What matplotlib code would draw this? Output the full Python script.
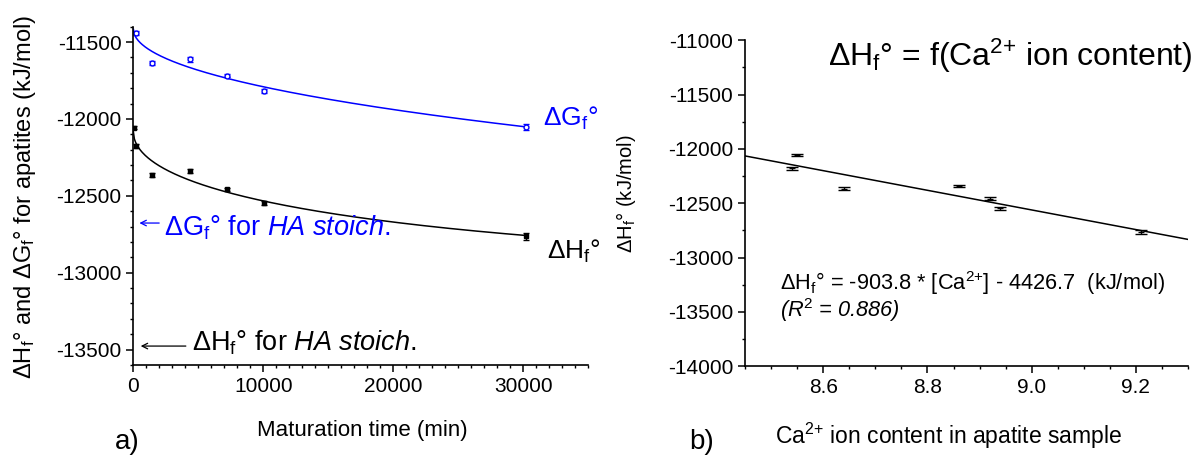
import numpy as np
import matplotlib.pyplot as plt
from matplotlib.ticker import MultipleLocator

plt.rcParams['font.family'] = ['Liberation Sans', 'DejaVu Sans']
plt.rcParams['mathtext.fontset'] = 'custom'
plt.rcParams['mathtext.rm'] = 'Liberation Sans'
plt.rcParams['mathtext.it'] = 'Liberation Sans:italic'
plt.rcParams['mathtext.bf'] = 'Liberation Sans:bold'
plt.rcParams['axes.unicode_minus'] = False

# maturation time (min) vs enthalpy / free energy of formation (kJ/mol)
time_h = [20, 180, 1440, 4320, 7200, 10080, 30240]
dH = [-12056, -12176, -12364, -12340, -12458, -12545, -12763]
dH_err = [12, 14, 12, 12, 12, 12, 22]

time_g = [180, 1440, 4320, 7200, 10080, 30240]
dG = [-11439, -11635, -11613, -11718, -11818, -12052]
dG_err = [14, 14, 14, 12, 14, 18]

# Ca2+ content of the same samples
ca_content = [8.55, 8.54, 8.64, 8.86, 8.92, 8.94, 9.21]
fit_slope, fit_icpt = -903.8, -4426.7
r2 = 0.886

# reference values for stoichiometric hydroxyapatite
dH_HA = -13477
dG_HA = -12677

BLUE = '#0000ff'
CA = r'Ca$^{2{+}}$'


def trend(t, y, tt):
    # least squares on 1, sqrt(t), t
    t = np.asarray(t, float)
    A = np.column_stack([np.ones(len(t)), np.sqrt(t), t])
    c = np.linalg.lstsq(A, np.asarray(y, float), rcond=None)[0]
    return c[0] + c[1] * np.sqrt(tt) + c[2] * tt


def style_axes(ax):
    for s in ('top', 'right'):
        ax.spines[s].set_visible(False)
    for s in ('left', 'bottom'):
        ax.spines[s].set_linewidth(1.2)
    ax.tick_params(which='major', direction='out', length=5, width=1.1, labelsize=15)
    ax.tick_params(which='minor', direction='out', length=2.5, width=1.0)


fig = plt.figure(figsize=(11.94, 4.62), dpi=100)

# a) time dependence
ax1 = fig.add_axes([0.1117, 0.2100, 0.381, 0.7323])
tt = np.linspace(0, 30240, 400)
ax1.plot(tt, trend(time_g, dG, tt), color=BLUE, lw=1.1)
ax1.plot(tt, trend(time_h, dH, tt), color='black', lw=1.1)
ax1.errorbar(time_g, dG, yerr=dG_err, fmt='o', ms=3.5, mfc='white', mec=BLUE,
             mew=1, ecolor=BLUE, elinewidth=1, capsize=2.5, color=BLUE)
ax1.errorbar(time_h, dH, yerr=dH_err, fmt='s', ms=3, color='black',
             elinewidth=1, capsize=2.5)
ax1.set_xlim(0, 35000)
ax1.set_ylim(-13600, -11400)
ax1.xaxis.set_major_locator(MultipleLocator(10000))
ax1.xaxis.set_minor_locator(MultipleLocator(1000))
ax1.yaxis.set_major_locator(MultipleLocator(500))
ax1.yaxis.set_minor_locator(MultipleLocator(100))
style_axes(ax1)

ax1.text(31500, -12044, r'ΔG$_\mathrm{f}$°', color=BLUE, fontsize=19, va='baseline')
ax1.text(31800, -12909, r'ΔH$_\mathrm{f}$°', color='black', fontsize=19, va='baseline')

ax1.annotate('', xy=(250, dG_HA), xytext=(2200, dG_HA),
             arrowprops=dict(arrowstyle='->', color=BLUE, lw=0.9))
ax1.text(2320, -12760, r'ΔG$_\mathrm{f}$° for $\mathit{HA\ stoich.}$', color=BLUE,
         fontsize=19.5, va='baseline')
ax1.annotate('', xy=(350, dH_HA), xytext=(4250, dH_HA),
             arrowprops=dict(arrowstyle='->', color='black', lw=0.9))
ax1.text(4490, -13505, r'ΔH$_\mathrm{f}$° for $\mathit{HA\ stoich.}$', color='black',
         fontsize=19.5, va='baseline')

ax1.set_xlabel('Maturation time (min)', fontsize=16)
ax1.xaxis.set_label_coords(0.503, -0.163)
ax1.set_ylabel(r'ΔH$_\mathrm{f}$° and ΔG$_\mathrm{f}$° for apatites (kJ/mol)', fontsize=17)
ax1.yaxis.set_label_coords(-0.209, 0.498)

# b) dependence on Ca2+ content
ax2 = fig.add_axes([0.6240, 0.2071, 0.371, 0.7056])
xx = np.array([8.45, 9.3])
ax2.plot(xx, fit_slope * xx + fit_icpt, color='black', lw=1.1)
ax2.errorbar(ca_content, dH, yerr=dH_err, fmt='_', ms=4, color='black',
             elinewidth=1, capsize=4)
ax2.set_xlim(8.45, 9.3)
ax2.set_ylim(-14000, -11000)
ax2.xaxis.set_major_locator(MultipleLocator(0.2))
ax2.xaxis.set_minor_locator(MultipleLocator(0.05))
ax2.yaxis.set_major_locator(MultipleLocator(500))
ax2.yaxis.set_minor_locator(MultipleLocator(250))
ax2.xaxis.set_major_formatter(lambda v, p: f'{v:.1f}')
style_axes(ax2)

ax2.text(0.187, 0.921, r'ΔH$_\mathrm{f}$° = f(' + CA + ' ion content)',
         transform=ax2.transAxes, fontsize=23, va='baseline')
ax2.text(0.079, 0.234,
         f'ΔH$_\\mathrm{{f}}$° = {fit_slope} * [{CA}] - {-fit_icpt}  (kJ/mol)',
         transform=ax2.transAxes, fontsize=15.7, va='baseline')
ax2.text(0.079, 0.152, f'(R$^{{\\mathit{{2}}}}$ = {r2:.3f})',
         transform=ax2.transAxes, fontsize=15.7, va='baseline', style='italic')

ax2.set_xlabel(CA + ' ion content in apatite sample', fontsize=16.5)
ax2.xaxis.set_label_coords(0.459, -0.168)
ax2.set_ylabel(r'ΔH$_\mathrm{f}$° (kJ/mol)', fontsize=14.5)
ax2.yaxis.set_label_coords(-0.242, 0.53)

fig.text(0.096, 0.028, 'a)', fontsize=20)
fig.text(0.577, 0.028, 'b)', fontsize=20)

fig.savefig('out.png', dpi=100)
